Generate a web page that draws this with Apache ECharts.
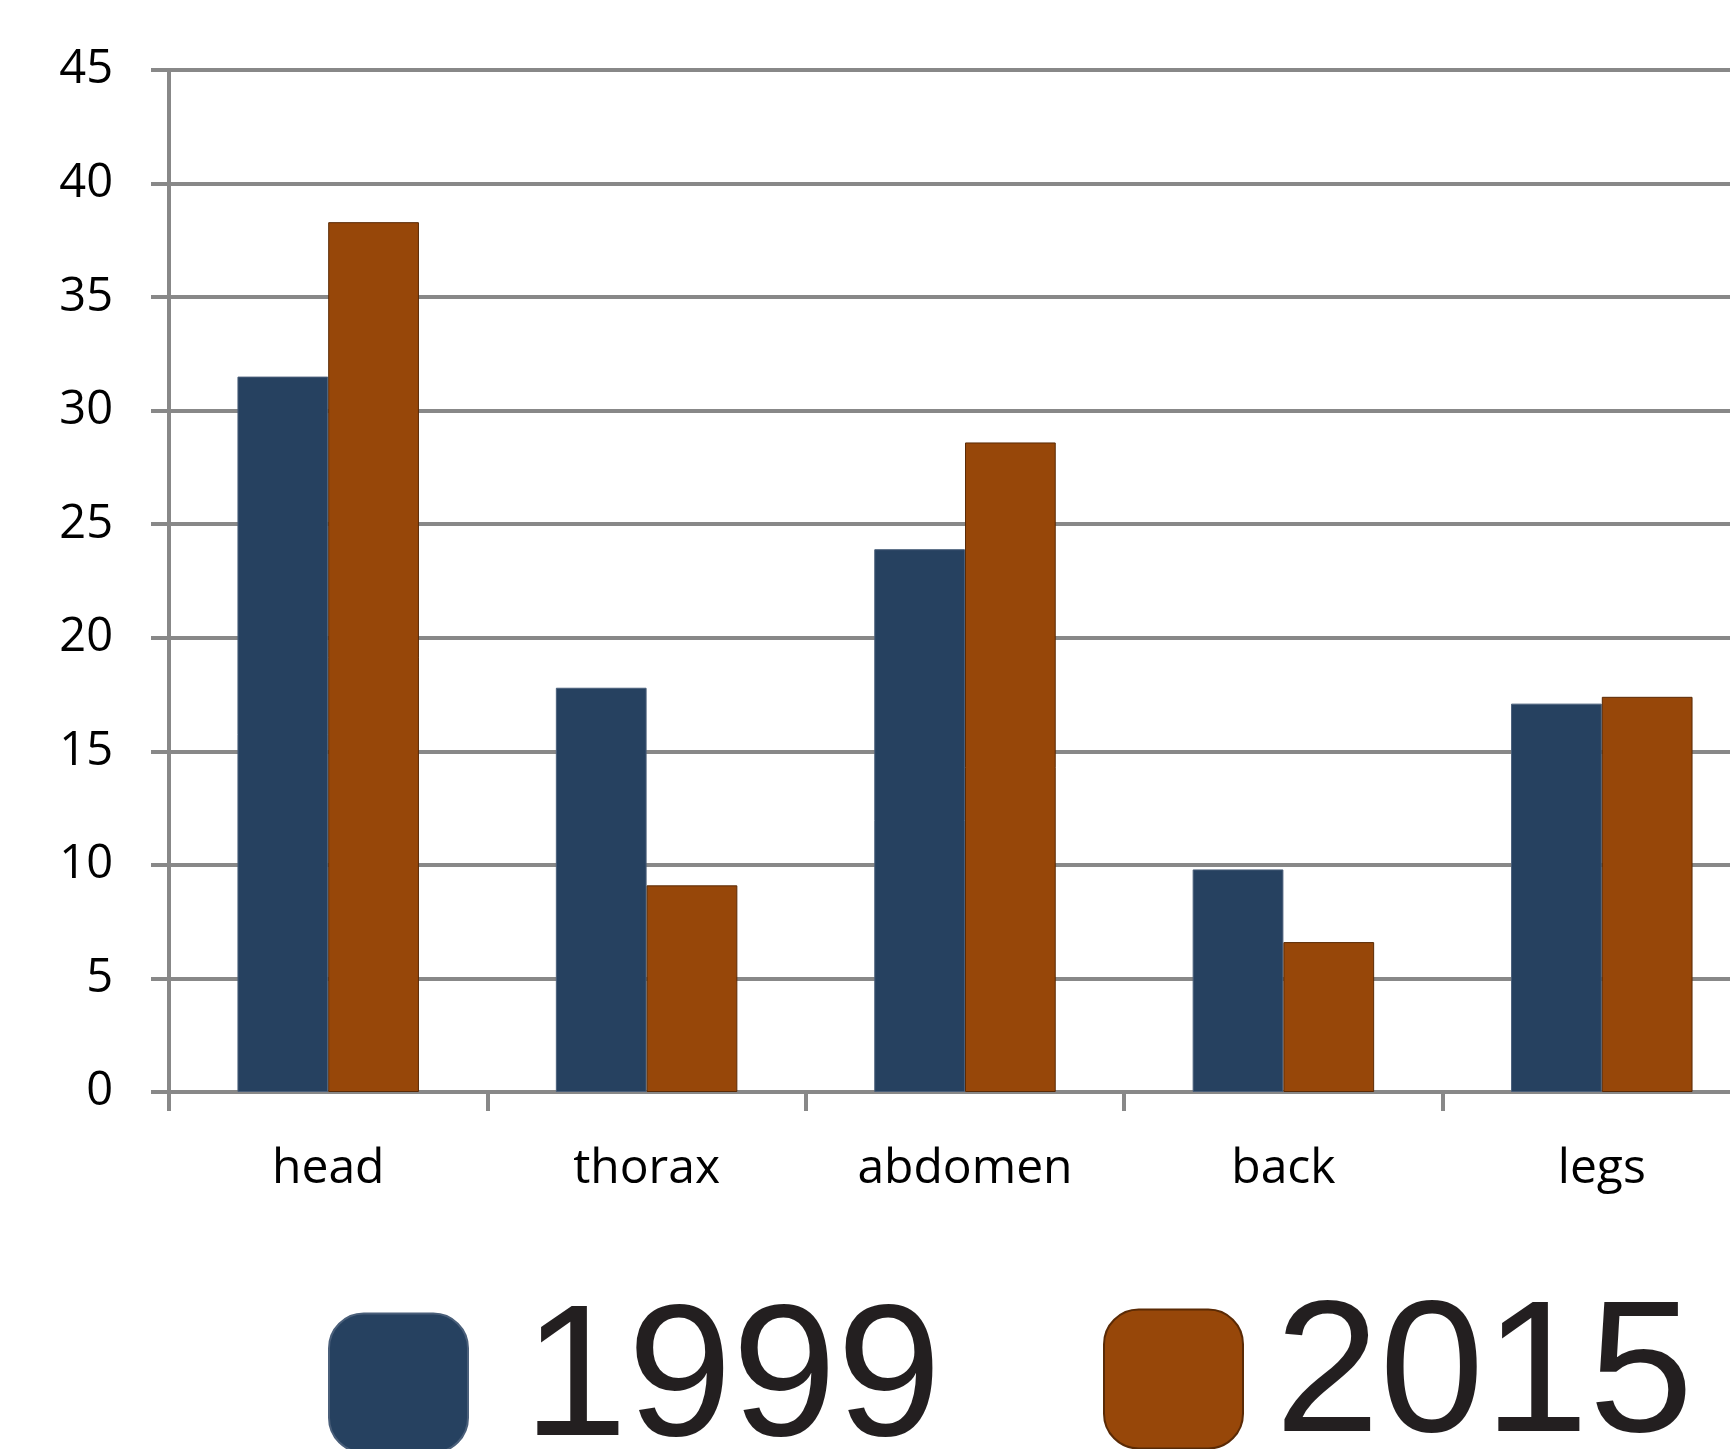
<!DOCTYPE html>
<html>
<head>
<meta charset="utf-8">
<script src="https://cdn.jsdelivr.net/npm/echarts@6/dist/echarts.min.js"></script>
<style>
  html, body { margin: 0; padding: 0; background: #fff; }
  #main_container { width: 1730px; height: 1449px; overflow: hidden; }
</style>
</head>
<body>
<div id="main_container"></div>
<script>
// data
var categories = ["head", "thorax", "abdomen", "back", "legs"];
var values1999 = [31.5, 17.8, 23.9, 9.8, 17.1];
var values2015 = [38.3, 9.1, 28.6, 6.6, 17.4];
var seriesNames = ["1999", "2015"];
var yTicks = { min: 0, max: 45, interval: 5 };

var colors = ["#264160", "#974709"];
var gridColor = "#888888";

var myChart = echarts.init(document.getElementById("main_container"));

function legendFor(name, left, top, gap) {
  return {
    data: [name],
    left: left,
    top: top,
    icon: "roundRect",
    itemWidth: 139,
    itemHeight: 139,
    selectedMode: false,
    textStyle: {
      fontFamily: "Liberation Sans",
      fontSize: 188,
      color: "#231f20",
      padding: [0, 0, 0, gap],
    },
  };
}

myChart.setOption({
  animation: false,
  color: colors,
  legend: [
    legendFor(seriesNames[0], 323, 1284, 50),
    legendFor(seriesNames[1], 1098, 1280, 27),
  ],
  // the plot runs past the right edge of the picture
  grid: {
    left: 169,
    top: 70,
    width: 1592,
    bottom: 357,
    containLabel: false,
    outerBoundsMode: "none",
  },
  xAxis: {
    type: "category",
    data: categories,
    axisLine: { lineStyle: { color: gridColor, width: 4 } },
    axisTick: { show: true, length: 19, lineStyle: { color: gridColor, width: 4 } },
    axisLabel: {
      fontFamily: "Open Sans",
      fontSize: 48,
      color: "#000",
      margin: 53,
    },
  },
  yAxis: {
    type: "value",
    min: yTicks.min,
    max: yTicks.max,
    interval: yTicks.interval,
    axisLine: { show: true, lineStyle: { color: gridColor, width: 4 } },
    axisTick: { show: true, length: 18, lineStyle: { color: gridColor, width: 4 } },
    splitLine: { lineStyle: { color: gridColor, width: 4 } },
    axisLabel: {
      fontFamily: "Open Sans",
      fontSize: 47,
      color: "#000",
      margin: 56,
    },
  },
  series: [
    {
      name: seriesNames[0],
      type: "bar",
      data: values1999,
      barGap: "0%",
      barCategoryGap: "43%",
      itemStyle: { borderColor: "#4a5f7a", borderWidth: 1 },
    },
    {
      name: seriesNames[1],
      type: "bar",
      data: values2015,
      barGap: "0%",
      barCategoryGap: "43%",
      itemStyle: { borderColor: "#5a2a05", borderWidth: 1 },
    },
  ],
});
</script>
</body>
</html>
